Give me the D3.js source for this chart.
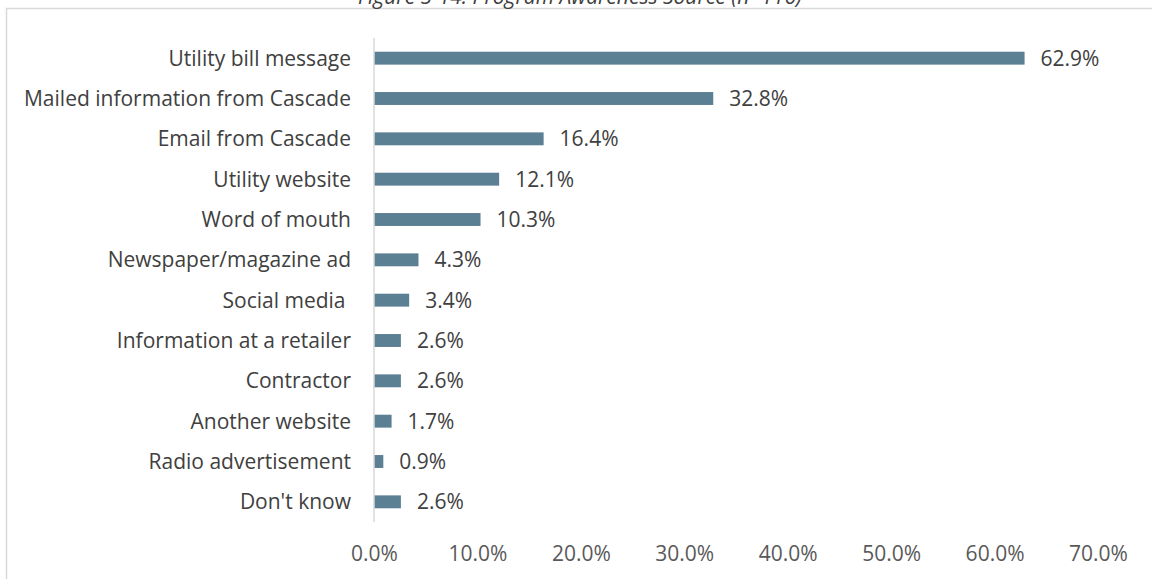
<!DOCTYPE html>
<html>
<head>
<meta charset="utf-8">
<script src="https://cdn.jsdelivr.net/npm/d3@7"></script>
<style>
  html, body { margin: 0; padding: 0; background: #fff; }
  svg { display: block; }
</style>
</head>
<body>
<svg id="chart" width="1152" height="579"></svg>
<script>
// Awareness sources, in display order (top to bottom)
const categories = [
  "Utility bill message",
  "Mailed information from Cascade",
  "Email from Cascade",
  "Utility website",
  "Word of mouth",
  "Newspaper/magazine ad",
  "Social media ",
  "Information at a retailer",
  "Contractor",
  "Another website",
  "Radio advertisement",
  "Don't know"
];
const percents = [62.9, 32.8, 16.4, 12.1, 10.3, 4.3, 3.4, 2.6, 2.6, 1.7, 0.9, 2.6];
const tickValues = [0, 10, 20, 30, 40, 50, 60, 70];
const titleText = "Figure 5-14. Program Awareness Source (n=116)";

const font = "'Open Sans', 'Noto Sans', sans-serif";
const fontSize = 21;
const svg = d3.select("#chart");

// Chart frame (runs off the right and bottom edges)
svg.append("rect")
  .attr("x", 6.5).attr("y", 8.5)
  .attr("width", 1160).attr("height", 600)
  .attr("fill", "none")
  .attr("stroke", "#d9d9d9")
  .attr("stroke-width", 1.5);

// Title, partly above the visible area
svg.append("text")
  .attr("x", 580).attr("y", 4)
  .attr("text-anchor", "middle")
  .attr("font-family", font)
  .attr("font-style", "italic")
  .attr("font-size", 21)
  .attr("fill", "#404040")
  .text(titleText);

const x = d3.scaleLinear().domain([0, 70]).range([374, 1098]);
const y = d3.scaleBand().domain(categories).range([38, 522]).paddingInner(0.68).paddingOuter(0.34);

// Bars
svg.append("g").selectAll("rect")
  .data(categories)
  .join("rect")
  .attr("x", x(0))
  .attr("y", d => y(d))
  .attr("width", (d, i) => x(percents[i]) - x(0))
  .attr("height", y.bandwidth())
  .attr("fill", "#5b7f93");

// Vertical category axis line
svg.append("line")
  .attr("x1", x(0)).attr("x2", x(0))
  .attr("y1", 38).attr("y2", 522)
  .attr("stroke", "#d9d9d9")
  .attr("stroke-width", 1.5);

// Category labels
svg.append("g").selectAll("text")
  .data(categories)
  .join("text")
  .attr("x", 351)
  .attr("y", d => y(d) + y.bandwidth() / 2)
  .attr("dy", "0.36em")
  .attr("text-anchor", "end")
  .attr("font-family", font)
  .attr("font-size", fontSize)
  .attr("fill", "#404040")
  .style("white-space", "pre")
  .text(d => d);

// Value labels
svg.append("g").selectAll("text")
  .data(categories)
  .join("text")
  .attr("x", (d, i) => x(percents[i]) + 16)
  .attr("y", d => y(d) + y.bandwidth() / 2)
  .attr("dy", "0.36em")
  .attr("font-family", font)
  .attr("font-size", fontSize)
  .attr("fill", "#404040")
  .text((d, i) => percents[i].toFixed(1) + "%");

// Value axis (tick labels only)
const xAxis = d3.axisBottom(x)
  .tickValues(tickValues)
  .tickSize(0)
  .tickPadding(0)
  .tickFormat(d => d.toFixed(1) + "%");
const gx = svg.append("g").call(xAxis);
gx.select(".domain").remove();
gx.selectAll("text")
  .attr("y", 561)
  .attr("dy", 0)
  .attr("font-family", font)
  .attr("font-size", fontSize)
  .attr("fill", "#595959");
</script>
</body>
</html>
